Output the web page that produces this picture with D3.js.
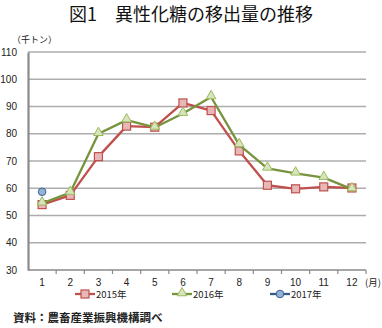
<!DOCTYPE html>
<html>
<head>
<meta charset="utf-8">
<script src="https://cdn.jsdelivr.net/npm/d3@7/dist/d3.min.js"></script>
<style>
  html, body { margin: 0; padding: 0; background: #fff; }
  svg { display: block; }
  text { font-family: "Liberation Sans", Arial, "Noto Sans CJK JP", sans-serif; fill: #222; }
  .jp { font-family: "Noto Sans CJK JP", sans-serif; }
</style>
</head>
<body>
<svg id="chart" width="382" height="328"></svg>
<script>
// Monthly shipments of high-fructose corn syrup (thousand tonnes)
const months = [1, 2, 3, 4, 5, 6, 7, 8, 9, 10, 11, 12];
const values2015 = [54.0, 57.4, 71.6, 82.8, 82.4, 91.3, 88.5, 73.7, 61.1, 59.8, 60.5, 60.1];
const values2016 = [54.5, 58.4, 80.0, 85.0, 82.3, 87.4, 93.5, 75.9, 67.3, 65.5, 63.9, 59.7];
const values2017 = [58.7];
const yTicks = [30, 40, 50, 60, 70, 80, 90, 100, 110];
const seriesNames = ["2015年", "2016年", "2017年"];

const svg = d3.select("#chart");

const x = d3.scaleBand().domain(months).range([28, 366]);
const y = d3.scaleLinear().domain([30, 110]).range([270, 52]);
const cx = m => x(m) + x.bandwidth() / 2;

// Title
svg.append("text")
  .attr("class", "jp")
  .attr("x", 191).attr("y", 21)
  .attr("text-anchor", "middle")
  .attr("font-size", 18)
  .attr("font-weight", 400)
  .style("fill", "#111")
  .text("図1　異性化糖の移出量の推移");

// Unit label
svg.append("text")
  .attr("class", "jp")
  .attr("x", 12).attr("y", 43)
  .attr("font-size", 9)
  .text("（千トン）");

// Horizontal gridlines
svg.append("g")
  .selectAll("line")
  .data(yTicks.filter(t => t > 30))
  .join("line")
  .attr("x1", 28).attr("x2", 366)
  .attr("y1", d => y(d)).attr("y2", d => y(d))
  .attr("stroke", "#adadad")
  .attr("stroke-width", 1.4);

// Y axis
const yAxis = d3.axisLeft(y).tickValues(yTicks).tickSize(0).tickPadding(11);
const gy = svg.append("g").attr("transform", "translate(28,0)").call(yAxis);
gy.select(".domain").attr("stroke", "#8a8a8a").attr("stroke-width", 2.2);
gy.selectAll("text").attr("font-size", 10).style("fill", "#222");

// X axis with ticks on band boundaries
const gx = svg.append("g").attr("transform", "translate(0,270)");
gx.append("line").attr("x1", 28).attr("x2", 366).attr("stroke", "#8a8a8a").attr("stroke-width", 1.4);
gx.selectAll("line.tk")
  .data(months)
  .join("line")
  .attr("class", "tk")
  .attr("x1", d => x(d) + x.bandwidth()).attr("x2", d => x(d) + x.bandwidth())
  .attr("y1", 0).attr("y2", 4)
  .attr("stroke", "#8a8a8a").attr("stroke-width", 1.2);
gx.selectAll("text")
  .data(months)
  .join("text")
  .attr("x", d => cx(d)).attr("y", 16)
  .attr("text-anchor", "middle")
  .attr("font-size", 10)
  .text(d => d);
gx.append("text")
  .attr("class", "jp")
  .attr("x", 365).attr("y", 16)
  .attr("font-size", 9.5)
  .text("(月)");

const styles = [
  { stroke: "#c0504d", fill: "#e6b9b8", shape: "square" },
  { stroke: "#77933c", fill: "#d7e4bd", shape: "triangle" },
  { stroke: "#385d8a", fill: "#95b3d7", shape: "circle" }
];
const allSeries = [values2015, values2016, values2017];

function drawMarker(g, shape, st, px, py) {
  if (shape === "square") {
    g.append("rect").attr("x", px - 4).attr("y", py - 4).attr("width", 8).attr("height", 8)
      .attr("fill", st.fill).attr("stroke", st.stroke).attr("stroke-width", 1.2);
  } else if (shape === "triangle") {
    g.append("path").attr("d", d3.symbol(d3.symbolTriangle, 40)()).attr("transform", `translate(${px},${py - 1})`)
      .attr("fill", st.fill).attr("stroke", "#9bbb59").attr("stroke-width", 1);
  } else {
    g.append("circle").attr("cx", px).attr("cy", py).attr("r", 3.8)
      .attr("fill", st.fill).attr("stroke", st.stroke).attr("stroke-width", 1);
  }
}

const line = d3.line().x((d, i) => cx(months[i])).y(d => y(d));

allSeries.forEach((vals, si) => {
  const st = styles[si];
  const g = svg.append("g");
  if (vals.length > 1) {
    g.append("path").datum(vals).attr("d", line)
      .attr("fill", "none").attr("stroke", st.stroke).attr("stroke-width", 2.3)
      .attr("stroke-linejoin", "round");
  }
  vals.forEach((v, i) => drawMarker(g, st.shape, st, cx(months[i]), y(v)));
});

// Legend
const legendX = [75, 172, 270];
seriesNames.forEach((name, i) => {
  const st = styles[i];
  const g = svg.append("g");
  g.append("line").attr("x1", legendX[i]).attr("x2", legendX[i] + 20)
    .attr("y1", 294).attr("y2", 294)
    .attr("stroke", st.stroke).attr("stroke-width", 2.3);
  drawMarker(g, st.shape, st, legendX[i] + 10, 294);
  g.append("text").attr("class", "jp")
    .attr("x", legendX[i] + 21).attr("y", 297.5)
    .attr("font-size", 9.5)
    .text(name);
});

// Source note
svg.append("text")
  .attr("class", "jp")
  .attr("x", 13).attr("y", 322)
  .attr("font-size", 11.5)
  .attr("font-weight", 700)
  .text("資料：農畜産業振興機構調べ");
</script>
</body>
</html>
